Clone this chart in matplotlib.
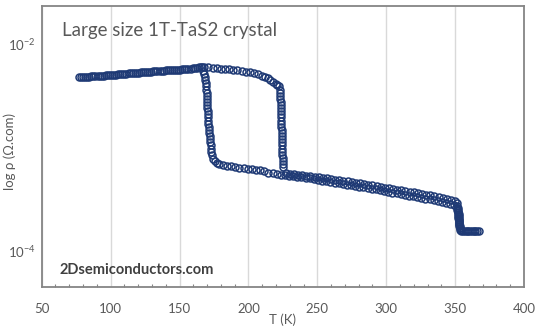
import numpy as np
import matplotlib
matplotlib.use("Agg")
import matplotlib.pyplot as plt
from matplotlib.ticker import FixedLocator, MultipleLocator, NullLocator

plt.rcParams['font.family'] = ['Lato', 'DejaVu Sans']
plt.rcParams['mathtext.fontset'] = 'custom'
plt.rcParams['mathtext.rm'] = 'Lato'
plt.rcParams['mathtext.it'] = 'Lato'

# ---------------- data (T in K, rho in mOhm.cm) ----------------
# heating run: 77 K -> 367 K
T_heat = [77, 80, 83, 86, 89, 92, 95, 98, 101, 104, 107, 110, 113, 116, 119, 122, 125, 128, 131, 134,
          137, 140, 143, 146, 149, 152, 155, 158, 161, 164, 166,
          168, 171, 174, 177, 180, 183, 186, 189, 192, 195, 198, 201, 204, 207, 210, 212, 214, 216, 218,
          220, 221, 222,
          222.6, 222.8, 223.0, 223.2, 223.3, 223.4, 223.5, 223.6, 223.7, 223.8, 223.9, 224.0, 224.0, 224.1,
          224.2, 224.3, 224.3, 224.4, 224.5, 224.6, 224.6, 224.7, 224.8, 224.9, 225.0, 225.2,
          227, 230, 233, 236, 239, 242, 245, 248, 251, 254, 257, 260, 263, 266, 269, 272, 275, 278, 281,
          284, 287, 290, 293, 296, 299, 302, 305, 308, 311, 314, 317, 320, 323, 326, 329, 332, 335, 338,
          341, 344, 347, 350, 351.5,
          352.0, 352.2, 352.4, 352.5, 352.6, 352.7, 352.8, 352.9, 353.0, 353.1, 353.2, 353.3,
          354.5, 357, 359.5, 362, 364.5, 367]
rho_heat = [4.83, 4.84, 4.85, 4.86, 4.88, 4.91, 4.95, 4.99, 5.03, 5.07, 5.11, 5.15, 5.19, 5.23, 5.28, 5.32,
            5.36, 5.40, 5.44, 5.48, 5.52, 5.55, 5.58, 5.61, 5.64, 5.68, 5.72, 5.78, 5.86, 5.95, 6.02,
            6.00, 5.94, 5.88, 5.83, 5.78, 5.74, 5.68, 5.62, 5.55, 5.48, 5.41, 5.33, 5.22, 5.08, 4.92, 4.80,
            4.66, 4.50, 4.33, 4.15, 4.02, 3.89,
            3.631, 3.388, 3.162, 2.951, 2.754, 2.570, 2.399, 2.239, 2.089, 1.950, 1.820, 1.698, 1.585, 1.479,
            1.380, 1.288, 1.202, 1.122, 1.047, 0.977, 0.912, 0.851, 0.794, 0.741, 0.692, 0.646,
            0.562, 0.556, 0.553, 0.545, 0.540, 0.532, 0.528, 0.520, 0.516, 0.508, 0.503, 0.496, 0.488, 0.484,
            0.476, 0.472, 0.464, 0.455, 0.452, 0.444, 0.435, 0.432, 0.424, 0.415, 0.407, 0.404, 0.396, 0.388,
            0.386, 0.378, 0.370, 0.368, 0.361, 0.353, 0.346, 0.344, 0.337, 0.330, 0.322, 0.315, 0.308, 0.301,
            0.288,
            0.263, 0.251, 0.240, 0.229, 0.219, 0.209, 0.200, 0.191, 0.182, 0.174, 0.166, 0.158,
            0.155, 0.155, 0.155, 0.155, 0.155, 0.155]

# cooling run: 367 K -> 77 K
T_cool = [366, 363.5, 361, 358.5, 356, 354,
          353.5, 353.2, 353.0, 352.8, 352.6, 352.4, 352.2, 352.0, 351.8, 351.6, 351.4, 351.2,
          349.5, 346.5, 343.5, 340.5, 337.5, 334.5, 331.5, 328.5, 325.5, 322.5, 319.5, 316.5, 313.5, 310.5,
          307.5, 304.5, 301.5, 298.5, 295.5, 292.5, 289.5, 286.5, 283.5, 280.5, 277.5, 274.5, 271.5, 268.5,
          265.5, 262.5, 259.5, 256.5, 253.5, 250.5, 247.5, 244.5, 241.5, 238.5, 235.5, 232.5, 229.5, 226.5,
          223.5, 220.5, 217.5, 214.5, 211.5, 208.5, 205.5, 202.5, 199.5, 196.5, 193.5, 190.5, 187.5, 184.5,
          181.5, 179, 177, 175.5, 174.5,
          173.6, 173.2, 172.9, 172.6, 172.3, 172.0, 171.8, 171.6, 171.4, 171.2, 171.0, 170.9, 170.8, 170.6,
          170.5, 170.3, 170.2, 170.0, 169.9, 169.8, 169.6, 169.4, 169.2, 169.0, 168.7, 168.3, 167.8, 167.2,
          165.5, 162.5, 159.5, 156.5, 153.5, 150.5, 147.5, 144.5, 141.5, 138.5, 135.5, 132.5, 129.5, 126.5,
          123.5, 120.5, 117.5, 114.5, 111.5, 108.5, 105.5, 102.5, 99.5, 96.5, 93.5, 90.5, 87.5, 84.5, 81.5,
          78.5]
rho_cool = [0.156, 0.156, 0.155, 0.156, 0.157, 0.158,
            0.166, 0.174, 0.182, 0.191, 0.200, 0.209, 0.219, 0.229, 0.240, 0.251, 0.263, 0.275,
            0.280, 0.285, 0.291, 0.297, 0.303, 0.309, 0.316, 0.318, 0.324, 0.331, 0.338, 0.340, 0.347, 0.354,
            0.362, 0.364, 0.371, 0.379, 0.387, 0.395, 0.397, 0.406, 0.415, 0.417, 0.426, 0.435, 0.437, 0.446,
            0.456, 0.458, 0.467, 0.477, 0.479, 0.489, 0.491, 0.502, 0.505, 0.516, 0.518, 0.530, 0.532, 0.544,
            0.547, 0.558, 0.571, 0.573, 0.586, 0.600, 0.602, 0.615, 0.617, 0.630, 0.631, 0.646, 0.661, 0.661,
            0.676, 0.692, 0.708, 0.741, 0.776,
            0.851, 0.912, 0.977, 1.047, 1.122, 1.202, 1.288, 1.380, 1.479, 1.585, 1.698, 1.820, 1.950, 2.089,
            2.239, 2.399, 2.570, 2.754, 2.951, 3.162, 3.388, 3.631, 3.890, 4.169, 4.467, 4.786, 5.129, 5.495,
            5.98, 5.90, 5.82, 5.75, 5.70, 5.66, 5.62, 5.59, 5.56, 5.53, 5.50, 5.46, 5.42, 5.38, 5.34, 5.30,
            5.25, 5.21, 5.17, 5.13, 5.09, 5.05, 5.01, 4.97, 4.93, 4.90, 4.87, 4.85, 4.84, 4.83]

x_ticks = [50, 100, 150, 200, 250, 300, 350, 400]
y_ticks = [1e-2, 1e-4]
y_tick_labels = [r'$10^{-2}$', r'$10^{-4}$']

title = "Large size 1T-TaS2 crystal"
watermark = "2Dsemiconductors.com"
xlabel = "T (K)"
ylabel = "log ρ (Ω.com)"

# ---------------- plot ----------------
W, H = 544, 335
fig = plt.figure(figsize=(W / 100, H / 100), dpi=100)
ax = fig.add_axes([41.7 / W, 1 - 287.3 / H, (524 - 41.7) / W, (287.3 - 6) / H])

navy = '#1f3a75'
gray_txt = '#595959'
frame = '#858585'

mk = dict(linestyle='none', marker='o', markersize=5.0, markerfacecolor='none',
          markeredgecolor=navy, markeredgewidth=1.1)
ax.plot(np.array(T_heat), np.array(rho_heat) * 1e-3, **mk)
ax.plot(np.array(T_cool), np.array(rho_cool) * 1e-3, **mk)

ax.set_yscale('log')
ax.set_xlim(50, 400)
ax.set_ylim(10 ** -4.351, 10 ** -1.633)

ax.xaxis.set_major_locator(FixedLocator(x_ticks))
ax.xaxis.set_minor_locator(MultipleLocator(10))
ax.yaxis.set_major_locator(FixedLocator(y_ticks))
ax.yaxis.set_minor_locator(NullLocator())
ax.set_yticklabels(y_tick_labels)

ax.grid(True, axis='x', which='major', color='#d9d9d9', linewidth=1.0)
ax.set_axisbelow(True)

ax.tick_params(axis='x', which='major', length=0, pad=11, labelsize=9.5, labelcolor=gray_txt)
ax.tick_params(axis='x', which='minor', direction='in', length=2.5, width=0.8, color=frame)
ax.tick_params(axis='y', which='major', length=0, pad=4, labelsize=9.5, labelcolor=gray_txt)

for s in ax.spines.values():
    s.set_color(frame)
    s.set_linewidth(1.3)

fig.text(61.7 / W, 1 - 36 / H, title, fontsize=13.5, color=gray_txt, va='baseline', ha='left')
fig.text(60 / W, 1 - 274.3 / H, watermark, fontsize=10.5, fontweight='bold', color='#404040',
         va='baseline', ha='left')
fig.text((41.7 + 524) / 2 / W, 1 - 320 / H, xlabel, fontsize=9.5, color=gray_txt, ha='center', va='center')
fig.text(10 / W, 1 - 151.5 / H, ylabel, fontsize=9.5, color=gray_txt, ha='center', va='center',
         rotation=90)

fig.savefig('out.png', dpi=100)
